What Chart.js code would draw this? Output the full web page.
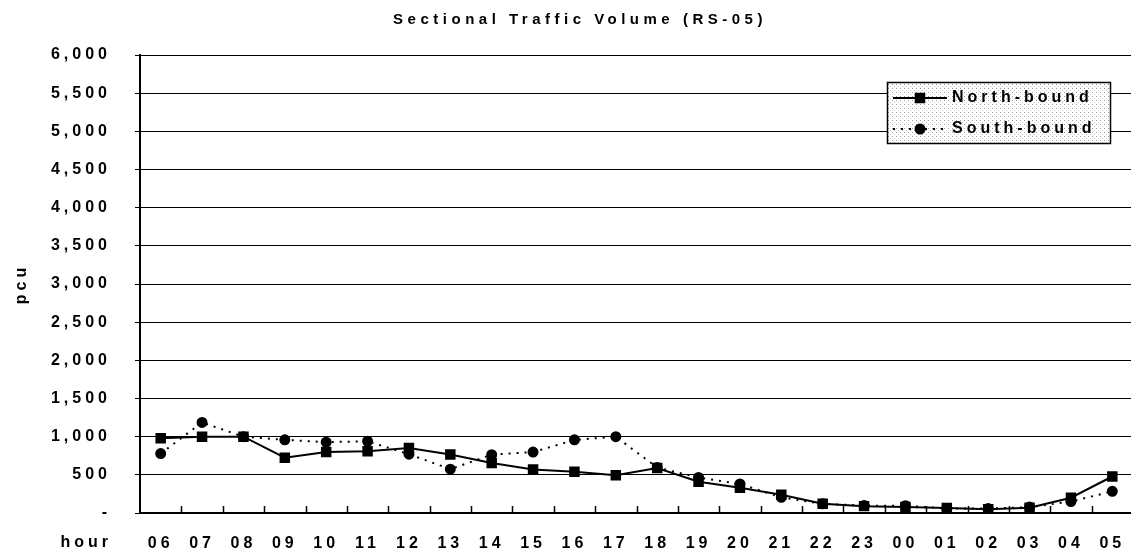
<!DOCTYPE html>
<html>
<head>
<meta charset="utf-8">
<title>Sectional Traffic Volume (RS-05)</title>
<script src="https://cdn.jsdelivr.net/npm/chart.js@4.4.1/dist/chart.umd.min.js"></script>
<style>
  html, body { margin: 0; padding: 0; background: #fff; overflow: hidden; }
</style>
</head>
<body>
<!-- a few px wider than the window: the original plot runs off the right edge -->
<canvas id="myChart" width="1141" height="557"></canvas>
<script>
/*----------------------------- data ----------------------------*/
const hours = ['06', '07', '08', '09', '10', '11', '12', '13', '14', '15', '16', '17',
               '18', '19', '20', '21', '22', '23', '00', '01', '02', '03', '04', '05'];
const northBound = [980, 1000, 1000, 725, 800, 810, 850, 765, 655, 570, 540, 495,
                    590, 410, 330, 240, 120, 90, 78, 65, 48, 70, 200, 478];
const southBound = [778, 1186, 1000, 958, 928, 940, 770, 574, 764, 798, 958, 1000,
                    595, 465, 380, 206, 120, 97, 95, 58, 58, 77, 150, 284];
const yTicks = [0, 500, 1000, 1500, 2000, 2500, 3000, 3500, 4000, 4500, 5000, 5500, 6000];

const FONT = "'Liberation Sans', Arial, sans-serif";
const SPACING = '4px';

/*--------------------------- plugins ---------------------------*/
// white page + wide letters like the scanned original
const pagePlugin = {
    id: 'page',
    beforeDraw(chart) {
        const ctx = chart.ctx;
        ctx.save();
        ctx.fillStyle = '#fff';
        ctx.fillRect(0, 0, chart.width, chart.height);
        ctx.restore();
        ctx.letterSpacing = SPACING;
    }
};

// title, "hour" and the small ticks standing inside the x axis
const extrasPlugin = {
    id: 'extras',
    afterDraw(chart) {
        const ctx = chart.ctx;
        const area = chart.chartArea;
        const x = chart.scales.x;
        ctx.save();
        ctx.strokeStyle = '#000';
        ctx.lineWidth = 1.5;
        for (let i = 1; i < hours.length; i++) {
            const px = Math.round((x.getPixelForValue(i - 1) + x.getPixelForValue(i)) / 2) + 0.5;
            ctx.beginPath();
            ctx.moveTo(px, area.bottom);
            ctx.lineTo(px, area.bottom - 7);
            ctx.stroke();
        }
        ctx.fillStyle = '#000';
        ctx.letterSpacing = '4.5px';
        ctx.font = 'bold 15px ' + FONT;
        ctx.textAlign = 'center';
        ctx.textBaseline = 'middle';
        ctx.fillText('Sectional Traffic Volume (RS-05)', 580, 20);
        ctx.letterSpacing = SPACING;
        ctx.font = 'bold 16px ' + FONT;
        ctx.textAlign = 'right';
        ctx.fillText('hour', 112, 543);
        ctx.restore();
    }
};

// boxed legend with a speckled fill, sitting on the grid
const boxLegendPlugin = {
    id: 'boxLegend',
    afterDraw(chart) {
        const ctx = chart.ctx;
        const area = chart.chartArea;
        const x0 = area.left + 747, y0 = area.top + 27, w = 223, h = 61;

        const tile = document.createElement('canvas');
        tile.width = 4; tile.height = 4;
        const tctx = tile.getContext('2d');
        tctx.fillStyle = '#fff';
        tctx.fillRect(0, 0, 4, 4);
        tctx.fillStyle = '#999';
        tctx.fillRect(0, 0, 1, 1);
        tctx.fillStyle = '#ccc';
        tctx.fillRect(2, 2, 1, 1);

        ctx.save();
        ctx.fillStyle = ctx.createPattern(tile, 'repeat');
        ctx.fillRect(x0, y0, w, h);
        ctx.strokeStyle = '#000';
        ctx.lineWidth = 1.5;
        ctx.strokeRect(x0 + 0.5, y0 + 0.5, w, h);

        ctx.font = 'bold 16px ' + FONT;
        ctx.textAlign = 'left';
        ctx.textBaseline = 'middle';
        chart.data.datasets.forEach((ds, i) => {
            const yy = y0 + 16 + i * 31;
            ctx.strokeStyle = '#000';
            ctx.lineWidth = ds.borderWidth;
            ctx.setLineDash(ds.borderDash || []);
            ctx.beginPath();
            ctx.moveTo(x0 + 6, yy);
            ctx.lineTo(x0 + 60, yy);
            ctx.stroke();
            ctx.setLineDash([]);
            ctx.fillStyle = '#000';
            Chart.helpers.drawPoint(ctx, {
                pointStyle: ds.pointStyle,
                radius: ds.pointRadius,
                rotation: 0,
                borderWidth: 1
            }, x0 + 33, yy);
            ctx.fillStyle = '#000';
            ctx.fillText(ds.label, x0 + 65, yy);
        });
        ctx.restore();
    }
};

/*---------------------------- chart ----------------------------*/
const data = {
    labels: hours,
    datasets: [{
        label: 'North-bound',
        data: northBound,
        borderColor: '#000',
        backgroundColor: '#000',
        borderWidth: 2,
        pointStyle: 'rect',
        pointRadius: 6,
        pointBackgroundColor: '#000',
        pointBorderColor: '#000',
        tension: 0
    }, {
        label: 'South-bound',
        data: southBound,
        borderColor: '#000',
        backgroundColor: '#000',
        borderWidth: 2,
        borderDash: [2, 6],
        pointStyle: 'circle',
        pointRadius: 4.5,
        pointBackgroundColor: '#000',
        pointBorderColor: '#000',
        tension: 0
    }]
};

const config = {
    type: 'line',
    data: data,
    options: {
        responsive: false,
        animation: false,
        devicePixelRatio: 1,
        layout: {
            padding: { top: 55, right: 0, bottom: 0, left: 0 }
        },
        plugins: {
            legend: { display: false },
            title: { display: false },
            tooltip: { enabled: false }
        },
        scales: {
            x: {
                type: 'category',
                offset: true,
                grid: { display: false },
                border: { display: true, color: '#000', width: 2 },
                ticks: {
                    color: '#000',
                    padding: 13,
                    maxRotation: 0,
                    autoSkip: false,
                    font: { family: FONT, size: 16, weight: 'bold' }
                },
                afterFit(scale) {
                    scale.height = 44;
                    scale.paddingLeft = 0;
                    scale.paddingRight = 0;
                }
            },
            y: {
                min: 0,
                max: 6000,
                afterBuildTicks(scale) {
                    scale.ticks = yTicks.map(v => ({ value: v }));
                },
                grid: {
                    color: '#000',
                    lineWidth: 1,
                    tickLength: 5,
                    tickColor: '#000'
                },
                border: { display: true, color: '#000', width: 2 },
                ticks: {
                    color: '#000',
                    padding: 24,
                    font: { family: FONT, size: 16, weight: 'bold' },
                    callback: v => v === 0 ? '-' : v.toLocaleString('en-US')
                },
                title: {
                    display: true,
                    text: 'pcu',
                    color: '#000',
                    padding: { top: 12, bottom: 0 },
                    font: { family: FONT, size: 16, weight: 'bold' }
                },
                afterFit(scale) { scale.width = 140; }
            }
        }
    },
    plugins: [pagePlugin, extrasPlugin, boxLegendPlugin]
};

const myChart = new Chart(document.getElementById('myChart'), config);
</script>
</body>
</html>
